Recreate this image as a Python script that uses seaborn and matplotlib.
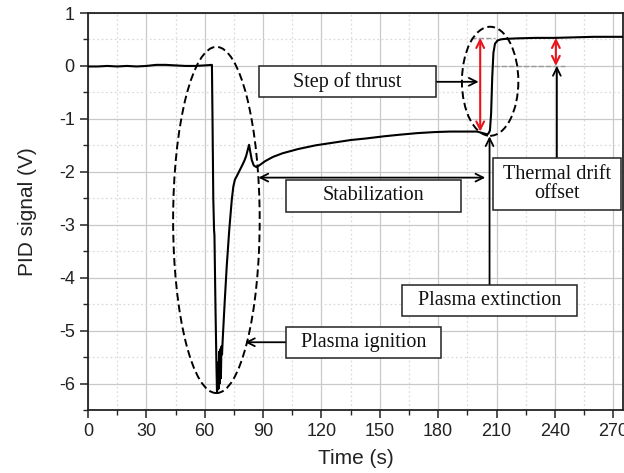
import matplotlib
matplotlib.use("Agg")
import matplotlib.pyplot as plt
from matplotlib.patches import Ellipse, Rectangle
from matplotlib.ticker import MultipleLocator
import seaborn as sns
import pandas as pd

# PID signal recorded during a thruster firing
time_s = [0, 5, 10, 15, 20, 25, 30, 35, 40, 45, 50, 55, 60, 63.7,
          64.0, 64.4, 64.8, 65.0, 65.5, 66.0, 66.3, 66.6, 66.9, 67.1, 67.4,
          67.7, 68.0, 68.3, 68.6, 68.9, 69.2, 70.2, 71.3, 72.6, 73.9, 74.7,
          75.5, 76.5, 78.0, 79.5, 80.5, 81.3, 82.0, 82.8, 83.4, 84.2, 85.2,
          86.5, 88, 91, 95, 100, 108, 117, 126, 135, 143, 152, 160, 169,
          178, 186, 194, 200, 203, 205, 205.8, 206.6, 207.2, 207.8, 208.4,
          209.2, 210.5, 212, 214, 220, 230, 240, 250, 260, 270, 275]
signal_v = [-0.01, -0.01, 0.0, -0.01, 0.0, -0.01, 0.0, 0.02, 0.02, 0.01,
            0.0, 0.0, 0.01, 0.02,
            -1.0, -2.5, -3.1, -3.2, -4.5, -5.6, -6.15, -6.1, -5.6, -6.1,
            -5.4, -6.0, -5.35, -5.9, -5.3, -5.45, -5.2, -4.5, -3.79, -3.1,
            -2.53, -2.28, -2.15, -2.08, -1.97, -1.86, -1.78, -1.70, -1.60,
            -1.49, -1.62, -1.78, -1.88, -1.91, -1.88, -1.80, -1.72, -1.65,
            -1.57, -1.50, -1.45, -1.40, -1.37, -1.33, -1.30, -1.27, -1.25,
            -1.24, -1.24, -1.24, -1.27, -1.29, -1.28, -1.22, -0.9, -0.2,
            0.25, 0.42, 0.48, 0.50, 0.51, 0.52, 0.53, 0.53, 0.54, 0.55,
            0.55, 0.55]

x_ticks = [0, 30, 60, 90, 120, 150, 180, 210, 240, 270]
y_ticks = [-6, -5, -4, -3, -2, -1, 0, 1]

# levels used for the thrust step and the drift offset
level_on = -1.24
level_off = 0.53
level_zero = 0.0

sns.set_style("ticks")
plt.rcParams["font.family"] = ["Liberation Sans", "DejaVu Sans"]
plt.rcParams["axes.unicode_minus"] = False

df = pd.DataFrame({"Time (s)": time_s, "PID signal (V)": signal_v})

fig = plt.figure(figsize=(6.24, 4.73), dpi=100)
ax = fig.add_axes([88 / 624, 1 - 410 / 473, (623 - 88) / 624, (410 - 13) / 473])

ax.set_xlim(0, 275)
ax.set_ylim(-6.5, 1)
ax.xaxis.set_major_locator(MultipleLocator(30))
ax.xaxis.set_minor_locator(MultipleLocator(15))
ax.yaxis.set_major_locator(MultipleLocator(1))
ax.yaxis.set_minor_locator(MultipleLocator(0.5))
ax.set_xticks(x_ticks)
ax.set_yticks(y_ticks)
ax.set_xticklabels([str(t) for t in x_ticks])
ax.set_yticklabels([str(t) for t in y_ticks])

ax.grid(which="major", color="#c9c9c9", lw=0.9, zorder=0)
ax.grid(which="minor", color="#dcdcdc", lw=0.9, ls=(0, (1.5, 2)), zorder=0)
ax.set_axisbelow(True)

sns.lineplot(data=df, x="Time (s)", y="PID signal (V)", ax=ax,
             color="black", lw=1.5, estimator=None, sort=False, zorder=3)

for s in ax.spines.values():
    s.set_color("#222222")
    s.set_linewidth(1.3)
ax.tick_params(which="major", direction="out", length=6, width=1.1,
               labelsize=13, colors="#222222", top=False, right=False)
ax.tick_params(which="minor", direction="out", length=3.5, width=1.0,
               top=False, right=False)
ax.set_xlabel("Time (s)", fontsize=15, color="#222222", labelpad=6)
ax.set_ylabel("PID signal (V)", fontsize=15, color="#222222", labelpad=16)

# dashed ellipses around ignition and extinction
ax.add_patch(Ellipse((66, -2.91), 44.5, 6.54, fill=False, ls=(0, (4, 2)),
                     lw=1.4, ec="black", zorder=4))
ax.add_patch(Ellipse((206.7, -0.29), 29, 2.06, fill=False, ls=(0, (4, 2)),
                     lw=1.4, ec="black", zorder=4))

# reference levels
ax.plot([197, 209], [level_off, level_off], color="#999999", ls="--",
        lw=1.0, zorder=2)
ax.plot([208.5, 245], [level_zero, level_zero], color="#999999", ls="--",
        lw=1.0, zorder=2)

arrow_k = dict(arrowstyle="->", color="black", lw=1.3, shrinkA=0,
               shrinkB=0, mutation_scale=14)
arrow_r = dict(arrowstyle="<->", color="#e8141c", lw=1.5, shrinkA=0,
               shrinkB=0, mutation_scale=14)

ax.annotate("", xy=(201.6, level_off), xytext=(201.6, level_on),
            arrowprops=arrow_r, zorder=5)
ax.annotate("", xy=(240.5, level_off), xytext=(240.5, level_zero),
            arrowprops=arrow_r, zorder=5)

serif = ["Liberation Serif", "DejaVu Serif"]


def label_box(x0, x1, y0, y1, text):
    ax.add_patch(Rectangle((x0, y0), x1 - x0, y1 - y0, fc="white",
                           ec="#222222", lw=1.1, zorder=6))
    ax.text((x0 + x1) / 2, (y0 + y1) / 2, text, ha="center", va="center",
            fontsize=14.5, family=serif, color="#111111", zorder=7,
            linespacing=1.05)


# Step of thrust
label_box(88.1, 178.8, -0.59, 0.0, "Step of thrust")
ax.annotate("", xy=(200.8, -0.30), xytext=(178.8, -0.30), arrowprops=arrow_k,
            zorder=5)

# Stabilization
label_box(101.8, 191.7, -2.75, -2.15, "Stabilization")
ax.annotate("", xy=(204.2, -2.11), xytext=(87.6, -2.11),
            arrowprops=dict(arrow_k, arrowstyle="<->"), zorder=5)

# Thermal drift offset
label_box(208.1, 274.0, -2.73, -1.73, "Thermal drift\noffset")
ax.annotate("", xy=(241, level_zero), xytext=(241, -1.73), arrowprops=arrow_k,
            zorder=5)

# Plasma extinction
label_box(161.3, 251.3, -4.73, -4.13, "Plasma extinction")
ax.annotate("", xy=(206.4, -1.33), xytext=(206.4, -4.13), arrowprops=arrow_k,
            zorder=5)

# Plasma ignition
label_box(101.8, 181.4, -5.52, -4.93, "Plasma ignition")
ax.annotate("", xy=(80.7, -5.22), xytext=(101.8, -5.22), arrowprops=arrow_k,
            zorder=5)

fig.savefig("out.png", dpi=100)
